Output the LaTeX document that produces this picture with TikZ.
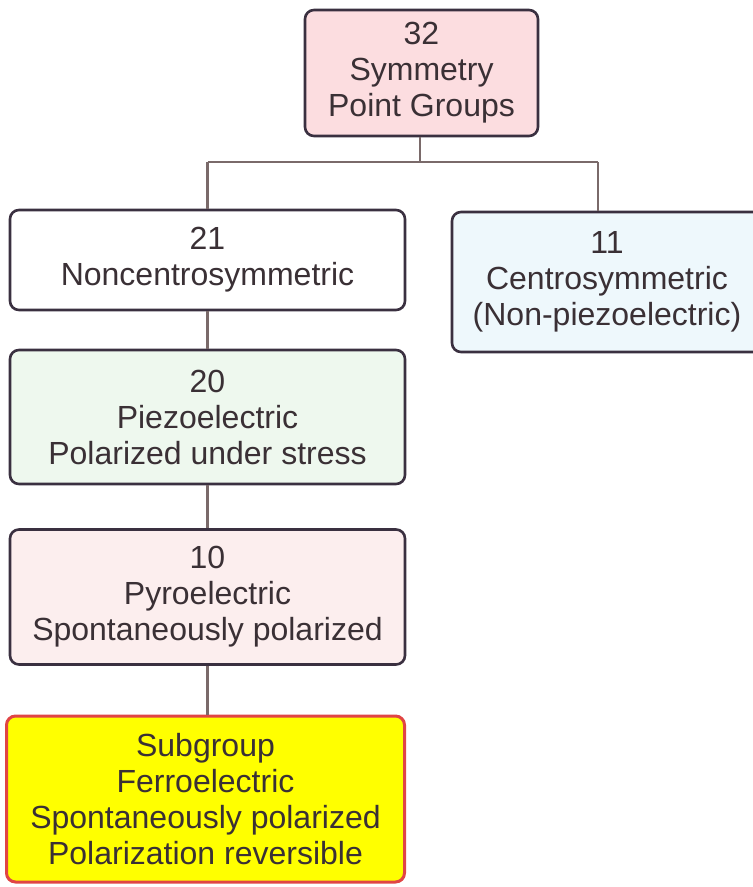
\documentclass[tikz,border=0pt]{standalone}
\usepackage{fontspec}
\setmainfont{Liberation Sans}
\begin{document}
\begin{tikzpicture}[x=1pt,y=-1pt,
  box/.style={draw=bordc, line width=2.6pt, rounded corners=9pt, align=center,
    font=\fontsize{32}{36}\selectfont, text=txtc, inner sep=0pt},
  link/.style={draw=linkc, line width=2.4pt}]
\definecolor{bordc}{HTML}{3A3040}
\definecolor{txtc}{HTML}{3A3035}
\definecolor{linkc}{HTML}{7A6A6A}
\definecolor{pinkA}{HTML}{FCDDE0}
\definecolor{blueA}{HTML}{EEF8FC}
\definecolor{greenA}{HTML}{EEF8EE}
\definecolor{pinkB}{HTML}{FCEEEE}
\definecolor{yellowA}{HTML}{FFFF00}
\definecolor{redA}{HTML}{E04545}
\useasboundingbox (0,0) rectangle (753,887);
\node[box, fill=pinkA, minimum width=233pt, minimum height=126pt] (g32) at (421.5,73) {32\\Symmetry\\Point Groups};
\node[box, fill=white, minimum width=395pt, minimum height=100pt] (g21) at (207.5,260) {21\\Noncentrosymmetric};
\node[box, fill=blueA, minimum width=310pt, minimum height=140pt] (g11) at (607,282) {11\\Centrosymmetric\\(Non-piezoelectric)};
\node[box, fill=greenA, minimum width=395pt, minimum height=134pt] (g20) at (207.5,417) {20\\Piezoelectric\\Polarized under stress};
\node[box, fill=pinkB, minimum width=395pt, minimum height=135pt] (g10) at (207.5,597) {10\\Pyroelectric\\Spontaneously polarized};
\node[box, draw=redA, line width=3pt, fill=yellowA, minimum width=398pt, minimum height=166pt] (gf) at (205.5,799) {Subgroup\\Ferroelectric\\Spontaneously polarized\\Polarization reversible};
\coordinate (j) at (420,162);
\coordinate (jr) at (598,162);
\draw[link] (g32.south -| j) -- (j);
\draw[link] (j -| g21.north) -- (jr);
\draw[link] (j -| g21.north) -- (g21.north);
\draw[link] (jr) -- (g11.north -| jr);
\draw[link] (g21.south) -- (g20.north);
\draw[link] (g20.south) -- (g10.north);
\draw[link] (g10.south) -- (gf.north -| g10.south);
\end{tikzpicture}
\end{document}
